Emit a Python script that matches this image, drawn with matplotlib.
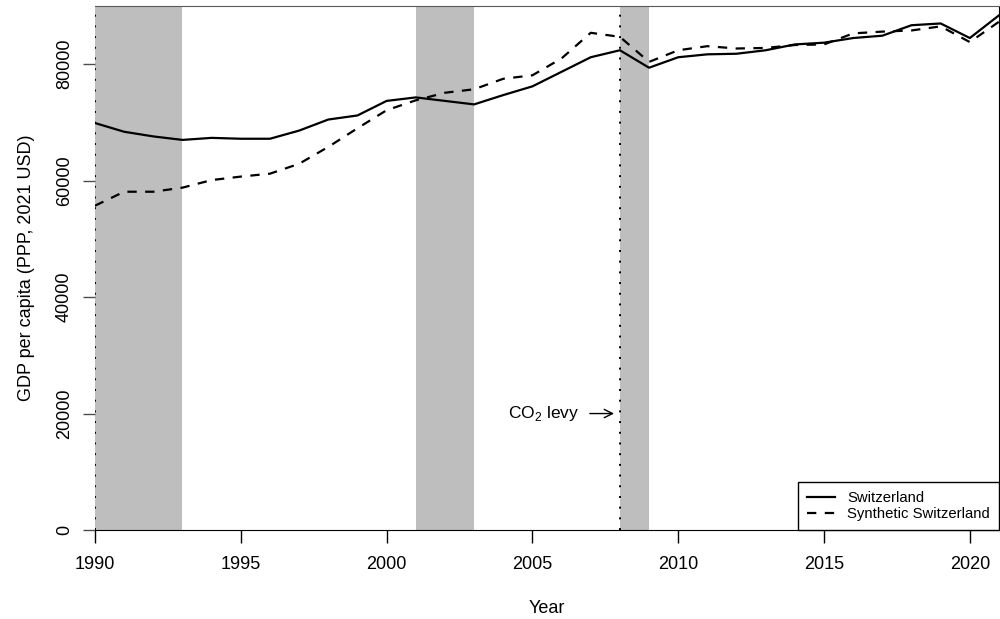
import matplotlib
matplotlib.use('Agg')
import matplotlib.pyplot as plt

plt.rcParams['font.family'] = ['Liberation Sans', 'DejaVu Sans']
plt.rcParams['mathtext.fontset'] = 'custom'
plt.rcParams['mathtext.rm'] = 'Liberation Sans'

# Serie observada e sintetica (PIB per capita)
anos = list(range(1990, 2022))
suica = [69900, 68400, 67600, 67000, 67350, 67200, 67200, 68600, 70500, 71200,
         73700, 74300, 73700, 73100, 74700, 76200, 78700, 81200, 82400, 79400,
         81200, 81700, 81800, 82400, 83400, 83700, 84500, 84900, 86700, 87000,
         84500, 88400]
sintetica = [55700, 58100, 58100, 58800, 60100, 60700, 61200, 62900, 65800, 69000,
             72100, 73800, 75100, 75700, 77500, 78100, 81000, 85400, 84700, 80400,
             82400, 83100, 82700, 82800, 83300, 83400, 85300, 85600, 85800, 86500,
             83800, 87300]
# Periodos sombreados (inicio, fim)
periodos = [(1990, 1993), (2001, 2003), (2008, 2009)]
# Linhas pontilhadas verticais
marcos = [1990, 2008]
ano_tratamento = 2008
y_anotacao = 20000

xticks = [1990, 1995, 2000, 2005, 2010, 2015, 2020]
yticks = [0, 20000, 40000, 60000, 80000]

fig = plt.figure(figsize=(10, 6.19), dpi=100)
ax = fig.add_axes([0.095, 0.1438, 0.904, 0.8465])

# Sombreamento
for ini, fim in periodos:
    ax.axvspan(ini, fim, color='#bebebe', lw=0, zorder=1)
for m in marcos:
    ax.axvline(m, color='black', ls=(0, (1, 4.5)), lw=1.4, zorder=2)

ax.plot(anos, suica, color='black', lw=1.6, zorder=3, label='Switzerland')
ax.plot(anos, sintetica, color='black', lw=1.6, ls=(0, (4.2, 3.8)), zorder=3,
        label='Synthetic Switzerland')

# Anotacao da taxa de CO2
ax.annotate('', xy=(ano_tratamento - 0.2, y_anotacao), xytext=(ano_tratamento - 1.03, y_anotacao),
            arrowprops=dict(arrowstyle='->,head_length=0.6,head_width=0.3', color='black',
                            lw=1.0, shrinkA=0, shrinkB=0))
ax.text(ano_tratamento - 1.4, y_anotacao, r'CO$_{2}$ levy', ha='right', va='center', fontsize=12.5)

ax.set_xlim(1990, 2021)
ax.set_ylim(0, 90000)
ax.set_xticks(xticks)
ax.set_yticks(yticks)
ax.set_yticklabels([str(v) for v in yticks], rotation=90, va='center')
ax.tick_params(axis='x', length=9, width=1.0, pad=10, labelsize=13)
ax.tick_params(axis='y', length=9, width=1.0, pad=7, labelsize=13, color='0.3')

ax.spines['left'].set_visible(False)
ax.spines['top'].set_color('0.35')
for s in ax.spines.values():
    s.set_zorder(5)

ax.set_xlabel('Year', fontsize=13, labelpad=19)
ax.set_ylabel('GDP per capita (PPP, 2021 USD)', fontsize=13, labelpad=15)

leg = ax.legend(loc='lower right', borderaxespad=0, fancybox=False, edgecolor='black',
                framealpha=1, fontsize=10.7, handlelength=1.85, handletextpad=0.85,
                labelspacing=0.12, borderpad=0.6)
leg.get_frame().set_linewidth(1.0)
leg.set_zorder(6)

fig.savefig('out.png', dpi=100)
